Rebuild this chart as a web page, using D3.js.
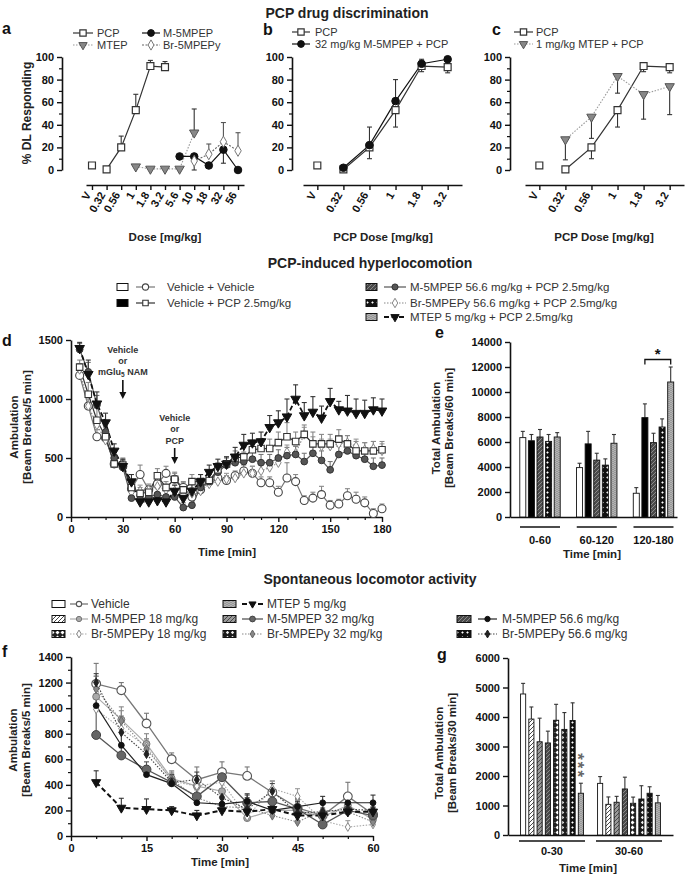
<!DOCTYPE html>
<html><head><meta charset="utf-8">
<script src="https://cdn.jsdelivr.net/npm/d3@7"></script>
<style>body{margin:0;background:#fff}</style>
</head><body>
<svg id="chart" width="685" height="876"></svg>
<script>
// ================= DATA =================
// Panels a-c: PCP drug discrimination (% DL responding)
const dosesAll = ["V","0.32","0.56","1","1.8","3.2","5.6","10","18","32","56"];
const dosesPCP = ["V","0.32","0.56","1","1.8","3.2"];
const pcpValues = [4, 0.5, 20, 53, 92, 91];
const pcpErrA = [0, 0, 10, 14, 5, 5];
const mtepDosesA = ["1","1.8","3.2","5.6","10"];
const mtepValuesA = [3, 1, 1, 1, 33];
const mtepErrA = [0, 0, 0, 0, 21];
const m5DosesA = ["5.6","10","18","32","56"];
const m5ValuesA = [12, 12, 4, 18, 0];
const m5ErrA = [0, -12, 0, -12, 0];
const brDosesA = ["10","18","32","56"];
const brValuesA = [8, 14, 25, 17];
const brErrA = [0, 9, 17, 16];
const pcpErrBC = [0, 0, -10, -15, -5, -5];
const comboDoses = ["0.32","0.56","1","1.8","3.2"];
const m5ValuesB = [2, 22, 61, 94, 98];
const m5ErrB = [0, 16, 19, 4, 0];
const mtepValuesC = [27, 47, 83, 67, 74];
const mtepErrC = [-18, -19, -15, -22, -25];

// Panel d: PCP-induced hyperlocomotion time course
const timeD = [5,10,15,20,25,30,35,40,45,50,55,60,65,70,75,80,85,90,95,100,105,110,115,120,125,130,135,140,145,150,155,160,165,170,175,180];
const vvD  = [1200,940,680,670,450,430,240,360,230,280,370,320,250,170,230,300,330,310,350,390,370,290,290,210,330,300,140,160,190,100,110,180,150,120,30,70];
const vvErr = [60,80,60,40,40,50,40,80,40,50,60,50,50,40,50,60,50,40,40,50,60,50,50,50,130,60,40,50,70,40,40,60,60,50,40,40];
const vpD  = [1270,1040,820,680,450,440,250,200,210,350,250,320,230,300,300,310,400,450,500,510,570,580,580,630,680,640,700,620,620,620,660,620,560,560,560,570];
const vpErr = [60,100,100,60,50,60,60,50,50,60,50,60,60,60,60,60,60,60,60,80,80,80,80,90,120,80,80,100,80,80,80,70,80,70,80,70];
const mD   = [1420,1230,950,720,500,420,160,150,170,190,170,170,80,100,250,300,380,440,460,470,490,460,460,500,520,530,470,540,480,400,530,560,520,490,430,440];
const mErr = [50,80,80,60,60,60,50,50,50,50,50,50,40,40,60,60,60,60,60,80,80,70,70,70,70,70,70,80,80,70,70,70,70,60,70,60];
const brD  = [1250,940,780,650,460,430,210,220,230,260,230,220,190,200,220,280,300,320,330,370,370,390,420,460,550,540,700,620,600,600,620,630,600,570,580,560];
const brErr = [50,60,60,60,60,60,50,50,50,50,50,50,50,50,50,50,50,50,50,50,60,60,60,60,60,60,60,60,60,60,60,60,60,60,60,60];
const mtD  = [1430,1210,960,800,560,430,300,130,130,140,130,220,160,220,300,380,430,450,510,610,630,640,760,800,850,1000,860,890,840,980,910,900,880,880,910,900];
const mtErr = [50,120,100,80,60,60,60,40,40,50,40,50,50,60,60,60,60,60,80,90,80,80,100,100,150,120,110,130,100,110,70,130,120,110,100,100];

// Panel e: total ambulation per hour
const groupsE = ["0-60","60-120","120-180"];
const vvE = [6350, 3950, 1900];   const vvEerr = [500, 350, 450];
const vpE = [6100, 5850, 7950];   const vpEerr = [500, 1000, 1100];
const mE  = [6400, 4550, 5950];   const mEerr  = [600, 550, 750];
const brE = [6050, 4150, 7200];   const brEerr = [550, 500, 650];
const mtE = [6400, 5900, 10800];  const mtEerr = [350, 700, 1200];

// Panel f: spontaneous locomotor activity time course
const timeF = [5,10,15,20,25,30,35,40,45,50,55,60];
const vehF  = [1190,1140,880,600,440,500,470,340,220,160,310,170];
const vehFerr = [160,60,80,50,100,80,70,90,60,60,110,60];
const m18F  = [1090,910,720,450,390,350,140,200,200,150,240,130];
const m18Ferr = [160,100,80,60,80,80,60,60,60,60,60,50];
const m32F  = [790,630,520,420,310,460,260,270,210,90,200,160];
const m32Ferr = [200,60,60,60,60,60,60,60,60,60,60,60];
const m56F  = [1020,710,480,410,260,250,270,200,230,260,260,260];
const m56Ferr = [90,100,70,60,60,60,60,60,60,50,60,60];
const br18F = [990,840,700,430,390,420,150,370,310,120,70,90];
const br18Ferr = [100,100,60,60,80,80,50,60,60,50,50,50];
const br32F = [1150,900,680,440,300,230,220,160,110,200,190,110];
const br32Ferr = [100,80,80,60,60,60,60,50,50,60,60,50];
const br56F = [1200,810,640,420,440,300,210,350,180,190,210,200];
const br56Ferr = [70,100,100,60,60,60,90,60,60,60,60,60];
const mtepF = [420,220,210,200,160,200,190,210,160,160,190,190];
const mtepFerr = [90,75,80,30,40,30,40,30,40,30,40,30];

// Panel g: total ambulation per 30 min
const groupsG = ["0-30","30-60"];
const vehG  = [4780, 1750];  const vehGerr  = [360, 230];
const m18G  = [3930, 1040];  const m18Gerr  = [410, 250];
const m32G  = [3160, 1110];  const m32Gerr  = [800, 200];
const m56G  = [3120, 1560];  const m56Gerr  = [400, 400];
const br18G = [3890, 1075];  const br18Gerr = [540, 210];
const br32G = [3580, 1220];  const br32Gerr = [570, 450];
const br56G = [3880, 1415];  const br56Gerr = [600, 220];
const mtepG = [1415, 1090];  const mtepGerr = [340, 250];

// ================= DRAWING =================
const FONT = '"Liberation Sans", Arial, Helvetica, sans-serif';
const fmt = d3.format("d");
const svg = d3.select("#chart");
svg.append("rect").attr("width",685).attr("height",876).attr("fill","#fff");
const defs = svg.append("defs");

function makePattern(id, size, bg, fn){
  const p = defs.append("pattern").attr("id",id).attr("patternUnits","userSpaceOnUse")
    .attr("width",size).attr("height",size);
  p.append("rect").attr("width",size).attr("height",size).attr("fill",bg);
  fn(p);
}
const hatchD = "M-1,1 l2,-2 M0,4 l4,-4 M3,5 l2,-2";
makePattern("hatchDark",4,"#4a4a4a",p=>p.append("path").attr("d",hatchD).attr("stroke","#9a9a9a").attr("stroke-width",0.8));
makePattern("hatchMid",4,"#9a9a9a",p=>p.append("path").attr("d",hatchD).attr("stroke","#333").attr("stroke-width",0.8));
makePattern("hatchLight",4,"#fff",p=>p.append("path").attr("d",hatchD).attr("stroke","#333").attr("stroke-width",0.9));
makePattern("checker",5,"#111",p=>p.append("path").attr("d","M2.5,1.2 L3.8,2.5 L2.5,3.8 L1.2,2.5Z").attr("fill","#fff"));
makePattern("checkerMid",5,"#1a1a1a",p=>p.append("path").attr("d","M2.5,0.8 L4.2,2.5 L2.5,4.2 L0.8,2.5Z").attr("fill","#eee"));
makePattern("checkerLight",5,"#222",p=>p.append("path").attr("d","M2.5,0.5 L4.5,2.5 L2.5,4.5 L0.5,2.5Z").attr("fill","#fff"));
makePattern("mtepPat",4,"#8a8a8a",p=>p.append("path").attr("d","M0,1 Q1,0 2,1 T4,1 M0,3 Q1,2 2,3 T4,3").attr("stroke","#d8d8d8").attr("fill","none").attr("stroke-width",0.7));

function txt(x,y,s,o={}){
  return svg.append("text").attr("x",x).attr("y",y).text(s)
    .attr("font-family",FONT).attr("font-size",o.size||11)
    .attr("font-weight",o.bold?"bold":"normal").attr("fill",o.fill||"#222")
    .attr("text-anchor",o.anchor||"start");
}
function vtxt(x,y,s,o={}){
  return svg.append("text").attr("transform",`translate(${x},${y}) rotate(-90)`).text(s)
    .attr("font-family",FONT).attr("font-size",o.size||11).attr("font-weight","bold")
    .attr("fill","#222").attr("text-anchor","middle");
}
function styleAxis(g){
  g.attr("font-family",FONT).attr("font-size",11).attr("font-weight","bold");
  g.select(".domain").attr("stroke","#111").attr("stroke-width",1.6);
  g.selectAll(".tick line").attr("stroke","#111").attr("stroke-width",1.4);
  g.selectAll(".tick text").attr("fill","#111");
  return g;
}
function minor(axisGen, transform){
  const g = svg.append("g").attr("transform",transform).call(axisGen);
  g.select(".domain").remove(); g.selectAll("text").remove();
  g.selectAll("line").attr("stroke","#111").attr("stroke-width",1.2);
}
const SYM = {circle:d3.symbolCircle, square:d3.symbolSquare, diamond:d3.symbolDiamond, tri:d3.symbolTriangle};
function marker(g,type,x,y,size,fill,stroke,sw){
  g.append("path").attr("d",d3.symbol(SYM[type],size)())
    .attr("transform",`translate(${x},${y})`+(type==="tri"?" rotate(180)":""))
    .attr("fill",fill).attr("stroke",stroke).attr("stroke-width",sw||1);
}
function drawSeries(list, xf, yf){
  const layer = svg.append("g");
  const pts = list.map(s=>s.xs.map((k,i)=>({x:xf(k), v:s.vs[i], e:s.es?s.es[i]:0})));
  list.forEach((s,si)=>{
    pts[si].forEach(p=>{
      if(!p.e) return;
      const y1=yf(p.v), y2=yf(Math.max(0,p.v+p.e));
      layer.append("line").attr("x1",p.x).attr("x2",p.x).attr("y1",y1).attr("y2",y2)
        .attr("stroke",s.ecol||"#333").attr("stroke-width",1.1);
      layer.append("line").attr("x1",p.x-2.5).attr("x2",p.x+2.5).attr("y1",y2).attr("y2",y2)
        .attr("stroke",s.ecol||"#333").attr("stroke-width",1.1);
    });
  });
  list.forEach((s,si)=>{
    const lp = s.skipFirst ? pts[si].slice(1) : pts[si];
    layer.append("path").attr("d",d3.line().x(d=>d.x).y(d=>yf(d.v))(lp))
      .attr("fill","none").attr("stroke",s.lc).attr("stroke-width",s.lw||1.2)
      .attr("stroke-dasharray",s.dash||null);
  });
  list.forEach((s,si)=>{
    pts[si].forEach(p=>marker(layer,s.mt,p.x,yf(p.v),s.ms,s.mf,s.mst,s.msw));
  });
}
function legendItem(o){
  if(o.box){
    svg.append("rect").attr("x",o.bx).attr("y",o.y-3.5).attr("width",o.bw||11).attr("height",7)
      .attr("fill",o.box).attr("stroke","#111").attr("stroke-width",1);
  }
  svg.append("line").attr("x1",o.lx1).attr("x2",o.lx2).attr("y1",o.y).attr("y2",o.y)
    .attr("stroke",o.s.lc).attr("stroke-width",o.s.lw||1.2).attr("stroke-dasharray",o.s.dash||null);
  marker(svg,o.s.mt,(o.lx1+o.lx2)/2,o.y,o.ms||o.s.ms,o.s.mf,o.s.mst,o.s.msw);
  txt(o.tx,o.y+4,o.label,{size:o.size||11,fill:"#333"});
}

// ---------- Titles ----------
txt(347,18,"PCP drug discrimination",{size:14,bold:true,anchor:"middle"});
txt(370,268,"PCP-induced hyperlocomotion",{size:14,bold:true,anchor:"middle"});
txt(370,584,"Spontaneous locomotor activity",{size:14,bold:true,anchor:"middle"});

// ---------- styles for panels a-c ----------
const sPCP  = {lc:"#333",lw:1.2,mt:"square",ms:48,mf:"#fff",mst:"#333",msw:1.2,ecol:"#333"};
const sMTEP = {lc:"#999",lw:1.1,dash:"1.5,1.5",mt:"tri",ms:38,mf:"#888",mst:"#555",ecol:"#333"};
const sM5   = {lc:"#111",lw:1.2,mt:"circle",ms:45,mf:"#111",mst:"#111",ecol:"#333"};
const sBr   = {lc:"#666",lw:1.1,dash:"2,1.5",mt:"diamond",ms:36,mf:"#fff",mst:"#777",ecol:"#555"};

const yDL = d3.scaleLinear().domain([0,100]).range([170,57]);
function dosePanel(cats, range, pad, yx, series){
  const x = d3.scalePoint().domain(cats).range(range).padding(pad);
  styleAxis(svg.append("g").attr("transform",`translate(${yx},0)`)
    .call(d3.axisLeft(yDL).tickValues([0,20,40,60,80,100]).tickFormat(fmt).tickSize(5).tickSizeOuter(0)));
  minor(d3.axisLeft(yDL).tickValues([10,30,50,70,90]).tickSize(3),`translate(${yx},0)`);
  const gx = styleAxis(svg.append("g").attr("transform","translate(0,185)")
    .call(d3.axisBottom(x).tickSize(5).tickSizeOuter(0)));
  gx.selectAll(".tick text").attr("text-anchor","end").attr("y",0).attr("x",-9)
    .attr("dy","0.35em").attr("transform","rotate(-60)");
  drawSeries(series, k=>x(k), yDL);
  return x;
}
const xA = dosePanel(dosesAll,[86,244],0.41,62,[
  Object.assign({xs:dosesPCP,vs:pcpValues,es:pcpErrA,skipFirst:true},sPCP),
  Object.assign({xs:mtepDosesA,vs:mtepValuesA,es:mtepErrA},sMTEP),
  Object.assign({xs:m5DosesA,vs:m5ValuesA,es:m5ErrA},sM5),
  Object.assign({xs:brDosesA,vs:brValuesA,es:brErrA},sBr)
]);
const xB = dosePanel(dosesPCP,[303,462],0.55,292,[
  Object.assign({xs:dosesPCP,vs:pcpValues,es:pcpErrBC,skipFirst:true},sPCP),
  Object.assign({xs:comboDoses,vs:m5ValuesB,es:m5ErrB},sM5)
]);
const xC = dosePanel(dosesPCP,[525,684],0.55,510,[
  Object.assign({xs:dosesPCP,vs:pcpValues,es:pcpErrBC,skipFirst:true},sPCP),
  Object.assign({xs:comboDoses,vs:mtepValuesC,es:mtepErrC},sMTEP)
]);
txt(165,241,"Dose [mg/kg]",{size:11.5,bold:true,anchor:"middle"});
txt(383,241,"PCP Dose [mg/kg]",{size:11.5,bold:true,anchor:"middle"});
txt(604,241,"PCP Dose [mg/kg]",{size:11.5,bold:true,anchor:"middle"});
vtxt(31,113,"% DL Responding",{size:12});
txt(2,34,"a",{size:16,bold:true,fill:"#111"});
txt(263,35,"b",{size:16,bold:true,fill:"#111"});
txt(492,35,"c",{size:16,bold:true,fill:"#111"});
legendItem({s:sPCP,y:33,lx1:73,lx2:93,tx:97,label:"PCP",ms:40});
legendItem({s:sMTEP,y:45,lx1:73,lx2:93,tx:97,label:"MTEP",ms:30});
legendItem({s:sM5,y:33,lx1:142,lx2:160,tx:163,label:"M-5MPEP",ms:36});
legendItem({s:sBr,y:45,lx1:142,lx2:160,tx:163,label:"Br-5MPEPy",ms:30});
legendItem({s:sPCP,y:32,lx1:292,lx2:310,tx:315,label:"PCP",ms:40});
legendItem({s:sM5,y:44,lx1:292,lx2:310,tx:315,label:"32 mg/kg M-5MPEP + PCP",ms:36});
legendItem({s:sPCP,y:32,lx1:514,lx2:533,tx:536,label:"PCP",ms:40});
legendItem({s:sMTEP,y:44,lx1:514,lx2:533,tx:536,label:"1 mg/kg MTEP + PCP",ms:30});

// ---------- Panel d ----------
const xD = d3.scaleLinear().domain([0,180]).range([71,382]);
const yD = d3.scaleLinear().domain([0,1500]).range([517,340]);
styleAxis(svg.append("g").attr("transform","translate(71,0)")
  .call(d3.axisLeft(yD).tickValues([0,500,1000,1500]).tickFormat(fmt).tickSize(5).tickSizeOuter(0)));
styleAxis(svg.append("g").attr("transform","translate(0,517)")
  .call(d3.axisBottom(xD).tickValues([0,30,60,90,120,150,180]).tickFormat(fmt).tickSize(5).tickSizeOuter(0)));
minor(d3.axisBottom(xD).tickValues([10,20,40,50,70,80,100,110,130,140,160,170]).tickSize(3),"translate(0,517)");
const dVV = {lc:"#777",lw:1.2,mt:"circle",ms:50,mf:"#fff",mst:"#444",msw:1.1,ecol:"#888"};
const dVP = {lc:"#333",lw:1.2,mt:"square",ms:42,mf:"#fff",mst:"#333",msw:1.1,ecol:"#888"};
const dM  = {lc:"#555",lw:1.2,mt:"circle",ms:36,mf:"#555",mst:"#333",ecol:"#777"};
const dBr = {lc:"#888",lw:1.1,dash:"1.5,1.5",mt:"diamond",ms:26,mf:"#fff",mst:"#888",ecol:"#999"};
const dMT = {lc:"#111",lw:1.8,dash:"5,2.5",mt:"tri",ms:40,mf:"#111",mst:"#111",ecol:"#333"};
drawSeries([
  Object.assign({xs:timeD,vs:vvD,es:vvErr},dVV),
  Object.assign({xs:timeD,vs:brD,es:brErr},dBr),
  Object.assign({xs:timeD,vs:mD,es:mErr},dM),
  Object.assign({xs:timeD,vs:vpD,es:vpErr},dVP),
  Object.assign({xs:timeD,vs:mtD,es:mtErr},dMT)
], xD, yD);
vtxt(18,427,"Ambulation",{size:11.5});
vtxt(31,427,"[Beam Breaks/5 min]",{size:11.5});
txt(227,556,"Time [min]",{size:11.5,bold:true,anchor:"middle"});
txt(2,346,"d",{size:16,bold:true,fill:"#111"});
function arrow(x,y1,y2){
  svg.append("line").attr("x1",x).attr("x2",x).attr("y1",y1).attr("y2",y2-5).attr("stroke","#111").attr("stroke-width",1.6);
  svg.append("path").attr("d",`M${x-3.5},${y2-7}L${x+3.5},${y2-7}L${x},${y2}Z`).attr("fill","#111");
}
txt(xD(30),353,"Vehicle",{size:9,bold:true,anchor:"middle",fill:"#333"});
txt(xD(30),364,"or",{size:9,bold:true,anchor:"middle",fill:"#333"});
const nam = txt(xD(30),375,"mGlu",{size:9,bold:true,anchor:"middle",fill:"#333"});
nam.append("tspan").attr("font-size",6.5).attr("dy",2).text("5");
nam.append("tspan").attr("dy",-2).text(" NAM");
arrow(xD(30),380,399);
txt(xD(60),421,"Vehicle",{size:9,bold:true,anchor:"middle",fill:"#333"});
txt(xD(60),432,"or",{size:9,bold:true,anchor:"middle",fill:"#333"});
txt(xD(60),444,"PCP",{size:9,bold:true,anchor:"middle",fill:"#333"});
arrow(xD(60),448,464);

legendItem({box:"#fff",bx:117,s:dVV,y:287,lx1:136,lx2:155,tx:167,label:"Vehicle + Vehicle",size:11.5,ms:30});
legendItem({box:"#000",bx:117,s:dVP,y:303,lx1:136,lx2:155,tx:167,label:"Vehicle + PCP 2.5mg/kg",size:11.5,ms:30});
legendItem({box:"url(#hatchDark)",bx:366,s:dM,y:287,lx1:384,lx2:406,tx:410,label:"M-5MPEP 56.6 mg/kg + PCP 2.5mg/kg",size:11.5,ms:30});
legendItem({box:"url(#checker)",bx:366,s:dBr,y:303,lx1:384,lx2:406,tx:410,label:"Br-5MPEPy 56.6 mg/kg + PCP 2.5mg/kg",size:11.5,ms:26});
legendItem({box:"url(#mtepPat)",bx:366,s:dMT,y:317,lx1:384,lx2:406,tx:410,label:"MTEP 5 mg/kg + PCP 2.5mg/kg",size:11.5,ms:30});

// ---------- bar helper ----------
function barPanel(o){
  const y = d3.scaleLinear().domain([0,o.max]).range([o.y0,o.y1]);
  const gx = d3.scaleBand().domain(o.groups).range(o.grange).paddingInner(o.gpad);
  const bx = d3.scaleBand().domain(d3.range(o.series.length)).range([0,gx.bandwidth()]).paddingInner(o.bpad).paddingOuter(o.bpad/2);
  styleAxis(svg.append("g").attr("transform",`translate(${o.yx},0)`)
    .call(d3.axisLeft(y).tickValues(o.ticks).tickFormat(fmt).tickSize(5).tickSizeOuter(0)));
  const base = d3.scaleLinear().domain([0,1]).range([o.yx,o.xend]);
  styleAxis(svg.append("g").attr("transform",`translate(0,${o.y0})`)
    .call(d3.axisBottom(base).tickValues([]).tickSizeOuter(0)));
  const layer = svg.append("g");
  o.series.forEach((s,si)=>{
    o.groups.forEach((gname,gi)=>{
      const x0 = gx(gname)+bx(si), w = bx.bandwidth(), v = s.vs[gi], e = s.es[gi];
      const cx = x0+w/2;
      layer.append("line").attr("x1",cx).attr("x2",cx).attr("y1",y(v)).attr("y2",y(v+e)).attr("stroke","#333").attr("stroke-width",1.1);
      layer.append("line").attr("x1",cx-2).attr("x2",cx+2).attr("y1",y(v+e)).attr("y2",y(v+e)).attr("stroke","#333").attr("stroke-width",1.1);
      layer.append("rect").attr("x",x0).attr("y",y(v)).attr("width",w).attr("height",o.y0-y(v))
        .attr("fill",s.fill).attr("stroke","#111").attr("stroke-width",0.9);
    });
  });
  o.groups.forEach(gname=>{
    const c = gx(gname)+gx.bandwidth()/2;
    svg.append("line").attr("x1",c-o.lineHalf).attr("x2",c+o.lineHalf).attr("y1",o.y0+o.lineDy).attr("y2",o.y0+o.lineDy).attr("stroke","#111").attr("stroke-width",1.4);
    txt(c,o.y0+o.labDy,gname,{size:11,bold:true,anchor:"middle",fill:"#111"});
  });
  return {y,gx,bx};
}

// ---------- Panel e ----------
const E = barPanel({groups:groupsE,max:14000,y0:517,y1:342,yx:510,xend:677,lineDy:10,labDy:27,
  ticks:[0,2000,4000,6000,8000,10000,12000,14000],grange:[518.5,675],gpad:0.242,bpad:0.3,lineHalf:20,
  series:[{vs:vvE,es:vvEerr,fill:"#fff"},{vs:vpE,es:vpEerr,fill:"#000"},
          {vs:mE,es:mEerr,fill:"url(#hatchDark)"},{vs:brE,es:brEerr,fill:"url(#checker)"},
          {vs:mtE,es:mtEerr,fill:"url(#mtepPat)"}]});
{
  const xa = E.gx("120-180")+E.bx(1)+E.bx.bandwidth()/2;
  const xb = E.gx("120-180")+E.bx(4)+E.bx.bandwidth()/2;
  const yb = E.y(12600);
  svg.append("path").attr("d",`M${xa},${yb+5}V${yb}H${xb}V${yb+5}`).attr("fill","none").attr("stroke","#111").attr("stroke-width",1.3);
  txt((xa+xb)/2,yb-1,"*",{size:15,bold:true,anchor:"middle",fill:"#111"});
}
vtxt(440,428,"Total Ambulation",{size:11.5});
vtxt(453,428,"[Beam Breaks/60 min]",{size:11.5});
txt(592,558,"Time [min]",{size:11.5,bold:true,anchor:"middle"});
txt(435,338,"e",{size:16,bold:true,fill:"#111"});

// ---------- Panel f ----------
const xF = d3.scaleLinear().domain([0,60]).range([71,373]);
const yF = d3.scaleLinear().domain([0,1400]).range([836,657]);
styleAxis(svg.append("g").attr("transform","translate(71,0)")
  .call(d3.axisLeft(yF).tickValues([0,200,400,600,800,1000,1200,1400]).tickFormat(fmt).tickSize(5).tickSizeOuter(0)));
minor(d3.axisLeft(yF).tickValues([100,300,500,700,900,1100,1300]).tickSize(3),"translate(71,0)");
styleAxis(svg.append("g").attr("transform","translate(0,836)")
  .call(d3.axisBottom(xF).tickValues([0,15,30,45,60]).tickFormat(fmt).tickSize(5).tickSizeOuter(0)));
minor(d3.axisBottom(xF).tickValues([5,10,20,25,35,40,50,55]).tickSize(3),"translate(0,836)");
const fVeh = {lc:"#777",lw:1.3,mt:"circle",ms:60,mf:"#fff",mst:"#555",msw:1.1,ecol:"#777"};
const fM18 = {lc:"#aaa",lw:1.2,mt:"circle",ms:38,mf:"#aaa",mst:"#777",ecol:"#888"};
const fM32 = {lc:"#555",lw:1.3,mt:"circle",ms:62,mf:"#666",mst:"#444",ecol:"#555"};
const fM56 = {lc:"#222",lw:1.2,mt:"circle",ms:26,mf:"#111",mst:"#111",ecol:"#333"};
const fB18 = {lc:"#aaa",lw:1.1,dash:"1.5,1.5",mt:"diamond",ms:22,mf:"#fff",mst:"#888",ecol:"#999"};
const fB32 = {lc:"#888",lw:1.1,dash:"1.5,1.5",mt:"diamond",ms:24,mf:"#888",mst:"#666",ecol:"#888"};
const fB56 = {lc:"#444",lw:1.1,dash:"1.5,1.5",mt:"diamond",ms:22,mf:"#222",mst:"#222",ecol:"#444"};
const fMT  = {lc:"#111",lw:2,dash:"5,3",mt:"tri",ms:36,mf:"#111",mst:"#111",ecol:"#333"};
drawSeries([
  Object.assign({xs:timeF,vs:vehF,es:vehFerr},fVeh),
  Object.assign({xs:timeF,vs:m18F,es:m18Ferr},fM18),
  Object.assign({xs:timeF,vs:br18F,es:br18Ferr},fB18),
  Object.assign({xs:timeF,vs:br32F,es:br32Ferr},fB32),
  Object.assign({xs:timeF,vs:m32F,es:m32Ferr},fM32),
  Object.assign({xs:timeF,vs:br56F,es:br56Ferr},fB56),
  Object.assign({xs:timeF,vs:m56F,es:m56Ferr},fM56),
  Object.assign({xs:timeF,vs:mtepF,es:mtepFerr},fMT)
], xF, yF);
vtxt(17,740,"Ambulation",{size:11.5});
vtxt(30,740,"[Beam Breaks/5 min]",{size:11.5});
txt(220,866,"Time [min]",{size:11.5,bold:true,anchor:"middle"});
txt(2,657,"f",{size:16,bold:true,fill:"#111"});

// ---------- Panel g ----------
const G = barPanel({groups:groupsG,max:6000,y0:835,y1:658,yx:508,xend:673,lineDy:6,labDy:20,
  ticks:[0,1000,2000,3000,4000,5000,6000],grange:[519,662],gpad:0.143,bpad:0.38,lineHalf:33,
  series:[{vs:vehG,es:vehGerr,fill:"#fff"},{vs:m18G,es:m18Gerr,fill:"url(#hatchLight)"},
          {vs:m32G,es:m32Gerr,fill:"url(#hatchMid)"},{vs:m56G,es:m56Gerr,fill:"url(#hatchDark)"},
          {vs:br18G,es:br18Gerr,fill:"url(#checkerLight)"},{vs:br32G,es:br32Gerr,fill:"url(#checkerMid)"},
          {vs:br56G,es:br56Gerr,fill:"url(#checker)"},{vs:mtepG,es:mtepGerr,fill:"url(#mtepPat)"}]});
{
  const xs = G.gx("0-30")+G.bx(7)+G.bx.bandwidth()/2;
  const yTop = G.y(mtepG[0]+mtepGerr[0]);
  // three stacked stars drawn as one string rotated 90 degrees (reads top to bottom)
  svg.append("text").attr("transform",`translate(${xs-9},${yTop-30}) rotate(90)`)
    .attr("font-family",FONT).attr("font-size",17).attr("font-weight","bold").attr("fill","#666")
    .attr("letter-spacing",2).text("***");
}
vtxt(443,753,"Total Ambulation",{size:11.5});
vtxt(456,753,"[Beam Breaks/30 min]",{size:11.5});
txt(588,872,"Time [min]",{size:11.5,bold:true,anchor:"middle"});
txt(437,660,"g",{size:16,bold:true,fill:"#111"});

// legend f/g
const LF = 12;
legendItem({box:"#fff",bx:52,bw:13,s:fVeh,y:604,lx1:70,lx2:88,tx:91,label:"Vehicle",size:LF,ms:22});
legendItem({box:"url(#hatchLight)",bx:52,bw:13,s:fM18,y:619,lx1:70,lx2:88,tx:91,label:"M-5MPEP 18 mg/kg",size:LF,ms:22});
legendItem({box:"url(#checkerLight)",bx:52,bw:13,s:fB18,y:634,lx1:70,lx2:88,tx:91,label:"Br-5MPEPy 18 mg/kg",size:LF,ms:18});
legendItem({box:"url(#mtepPat)",bx:223,bw:13,s:fMT,y:604,lx1:242,lx2:263,tx:267,label:"MTEP 5 mg/kg",size:LF,ms:22});
legendItem({box:"url(#hatchMid)",bx:223,bw:13,s:fM32,y:619,lx1:242,lx2:263,tx:267,label:"M-5MPEP 32 mg/kg",size:LF,ms:26});
legendItem({box:"url(#checkerMid)",bx:223,bw:13,s:fB32,y:634,lx1:242,lx2:263,tx:267,label:"Br-5MPEPy 32 mg/kg",size:LF,ms:18});
legendItem({box:"url(#hatchDark)",bx:457,bw:14,s:fM56,y:619,lx1:478,lx2:497,tx:502,label:"M-5MPEP 56.6 mg/kg",size:LF,ms:22});
legendItem({box:"url(#checker)",bx:457,bw:14,s:fB56,y:634,lx1:478,lx2:497,tx:502,label:"Br-5MPEPy 56.6 mg/kg",size:LF,ms:18});
</script>
</body></html>
